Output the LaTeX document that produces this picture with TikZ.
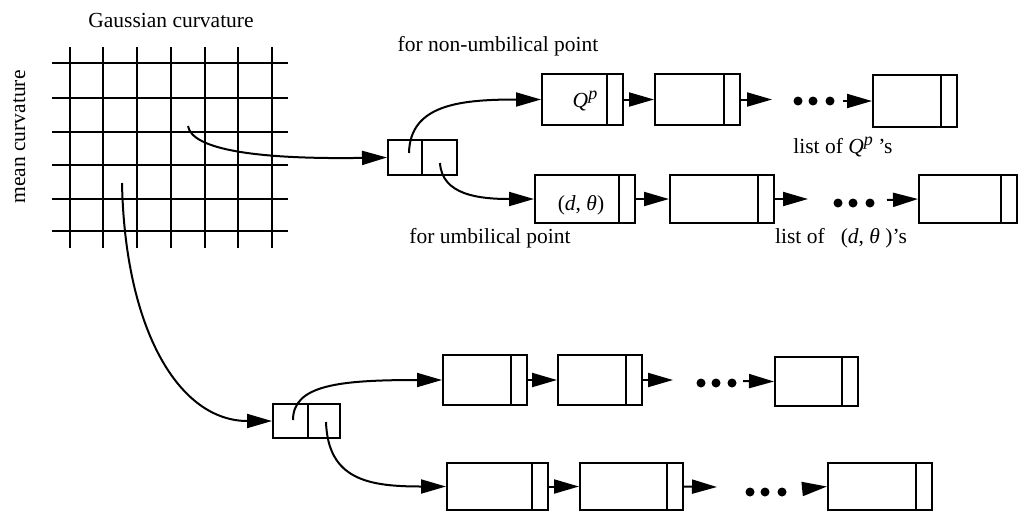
\documentclass[tikz,border=0pt]{standalone}
\usepackage{fontspec}
\setmainfont{Liberation Serif}
\usetikzlibrary{arrows.meta}
\newcommand{\supp}{{\fontsize{18}{18}\selectfont\raisebox{8pt}{\textit{p}}}}
\begin{document}
\begin{tikzpicture}[x=1pt,y=-1pt,
  lbl/.style={inner sep=0pt, font=\fontsize{21.5}{25}\selectfont},
  gridline/.style={line width=2.2pt},
  link/.style={line width=2pt, -{Triangle[length=25pt,width=14pt]}},
  cell/.style={draw, line width=2pt, inner sep=0pt, minimum width=34pt, minimum height=35pt},
  rec/.style={draw, line width=2pt, inner sep=0pt,
    path picture={\draw[line width=2pt]
      ([xshift=-16pt]path picture bounding box.north east) --
      ([xshift=-16pt]path picture bounding box.south east);}},
  dot/.style={fill=black}
]
\useasboundingbox (0,0) rectangle (1019,512);

% curvature table
\foreach \x in {70,103,137,171,205,238,272} \draw[gridline] (\x,47) -- (\x,248);
\foreach \y in {63,98,132,165,199,231} \draw[gridline] (52,\y) -- (288,\y);
\node[lbl, anchor=base] (tg) at (171,27) {Gaussian curvature};
\node[lbl, anchor=base, rotate=90] (tm) at (25,137) {mean curvature};

% two-cell headers
\node[cell, minimum width=34pt] (a1) at (405,157.5) {};
\node[cell, minimum width=35pt] (a2) at (439.5,157.5) {};
\node[cell, minimum width=35pt, minimum height=34pt] (b1) at (290.5,421) {};
\node[cell, minimum width=32pt, minimum height=34pt] (b2) at (324,421) {};

% first entry: non-umbilical list
\node[rec, minimum width=81pt, minimum height=51pt] (u1) at (582.5,99.5) {};
\node[rec, minimum width=85pt, minimum height=51pt] (u2) at (697.5,99.5) {};
\node[rec, minimum width=84pt, minimum height=52pt] (u3) at (915,101) {};
\node[lbl, anchor=base] (qp) at (585,107) {\textit{Q}\supp};
% first entry: umbilical list
\node[rec, minimum width=100pt, minimum height=48pt] (l1) at (585,199) {};
\node[rec, minimum width=104pt, minimum height=48pt] (l2) at (722,199) {};
\node[rec, minimum width=98pt, minimum height=48pt] (l3) at (968,199) {};
\node[lbl, anchor=base] (dth) at (581,210) {(\textit{d}, \textit{θ})};

% second entry lists
\node[rec, minimum width=84pt, minimum height=50pt] (m1) at (485,380) {};
\node[rec, minimum width=84pt, minimum height=50pt] (m2) at (600,380) {};
\node[rec, minimum width=83pt, minimum height=49pt] (m3) at (816.5,381.5) {};
\node[rec, minimum width=101pt, minimum height=47pt] (n1) at (497.5,486.5) {};
\node[rec, minimum width=103pt, minimum height=47pt] (n2) at (631.5,486.5) {};
\node[rec, minimum width=104pt, minimum height=47pt] (n3) at (880,486.5) {};

% labels
\node[lbl, anchor=base] (tn) at (498,51) {for non-umbilical point};
\node[lbl, anchor=base] (tu) at (490,243) {for umbilical point};
\node[lbl, anchor=base] (tq) at (843,153) {list of \textit{Q}\supp\ 's};
\node[lbl, anchor=base] (td) at (841,243) {list of\hspace{0.75em}(\textit{d}, \textit{θ} )'s};

% pointer origins and loose arrow ends
\coordinate (g1) at (188,126);
\coordinate (g2) at (122,183);
\coordinate (a1s) at (409,153);
\coordinate (a2s) at (440,163);
\coordinate (b1s) at (293,420);
\coordinate (b2s) at (326,422);
\coordinate (ue) at (772,99.5);
\coordinate (us) at (843,101);
\coordinate (le) at (808,199);
\coordinate (ls) at (887,200);
\coordinate (me) at (673,380);
\coordinate (ms) at (743,381);
\coordinate (ne) at (717,487);
\coordinate (ns) at (802,489);

% pointers
\draw[link] (g1) .. controls +(4,24) and +(-128,2) .. (a1.west);
\draw[link] (a1s) .. controls +(1,-48) and +(-82,0) .. (u1.west);
\draw[link] (a2s) .. controls +(2,32) and +(-55,0) .. (l1.west);
\draw[link] (g2) .. controls +(3,147) and +(-93,0) .. (b1.west);
\draw[link] (b1s) .. controls +(0,-35) and +(-103,0) .. (m1.west);
\draw[link] (b2s) .. controls +(2,58) and +(-77,0) .. (n1.west);

% list links
\draw[link] (u1.east) -- (u2.west);
\draw[link] (u2.east) -- (ue);
\draw[link] (us) -- (u3.west);
\draw[link] (l1.east) -- (l2.west);
\draw[link] (l2.east) -- (le);
\draw[link] (ls) -- (l3.west);
\draw[link] (m1.east) -- (m2.west);
\draw[link] (m2.east) -- (me);
\draw[link] (ms) -- (m3.west);
\draw[link] (n1.east) -- (n2.west);
\draw[link] (n2.east) -- (ne);
\draw[link] (ns) -- (n3.west);

% ellipses
\foreach \x in {798,813,830} \fill[dot] (\x,101) circle (4.5);
\foreach \x in {838,853,870} \fill[dot] (\x,203) circle (4.5);
\foreach \x in {701,716,732} \fill[dot] (\x,383) circle (4.5);
\foreach \x in {750,765,782} \fill[dot] (\x,492) circle (4.5);
\end{tikzpicture}
\end{document}
